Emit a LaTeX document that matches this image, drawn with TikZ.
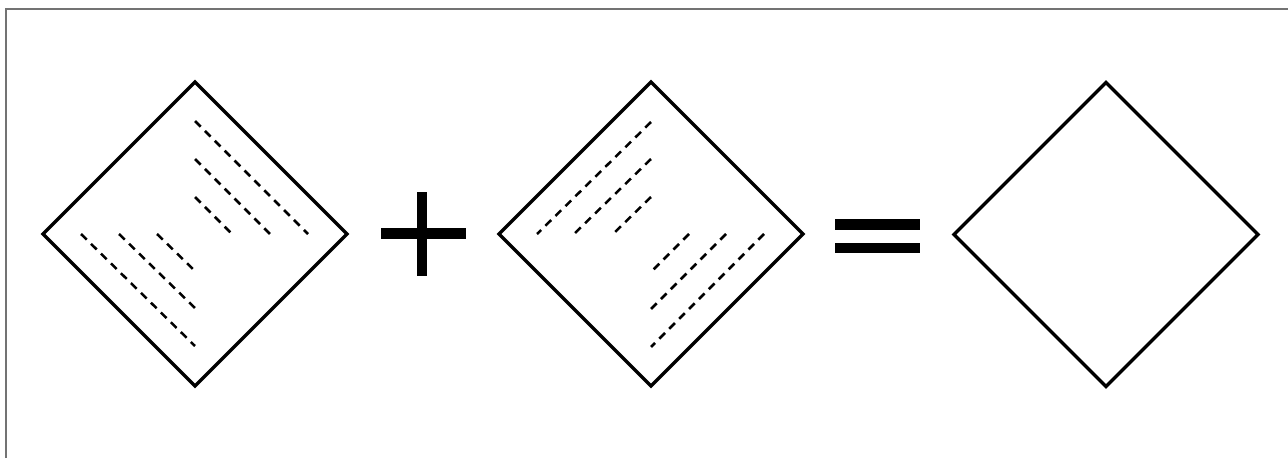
\documentclass[tikz,border=0pt]{standalone}
\usetikzlibrary{shapes.geometric}
\tikzset{
  dia/.style={draw=black, shape=diamond, aspect=1, minimum width=304pt, minimum height=304pt, inner sep=0pt, outer sep=0pt, line width=3.5pt, line join=miter},
  dsh/.style={draw=black, line width=2.5pt, dash pattern=on 8pt off 6pt},
  bar/.style={fill=black, draw=none},
  frame/.style={draw=black!55, line width=1.6pt}
}
\begin{document}
\begin{tikzpicture}[x=1pt,y=-1pt]
\useasboundingbox (0,0) rectangle (1288,458);
% frame
\draw[frame] (6,458) -- (6,9) -- (1288,9);
% diamond 1
\begin{scope}[shift={(195,234)}]
  \node[dia] (d1) at (0,0) {};
  \draw[dsh] (0,-113) -- (113,0);
  \draw[dsh] (0,-75) -- (75,0);
  \draw[dsh] (0,-37) -- (37,0);
  \draw[dsh] (-114,0) -- (0,112);
  \draw[dsh] (-76,0) -- (0,74);
  \draw[dsh] (-38,0) -- (0,37);
\end{scope}
% plus
\fill[bar] (417.3,192.3) rectangle (427.3,275.7);
\fill[bar] (380.7,228.3) rectangle (465.7,239);
% diamond 2
\begin{scope}[shift={(651,234)}]
  \node[dia] (d2) at (0,0) {};
  \draw[dsh] (0,-112) -- (-114,0);
  \draw[dsh] (0,-75) -- (-77,0);
  \draw[dsh] (0,-37) -- (-38,0);
  \draw[dsh] (113,0) -- (0,113);
  \draw[dsh] (75,0) -- (0,75);
  \draw[dsh] (38,0) -- (0,38);
\end{scope}
% equals
\fill[bar] (835,219.3) rectangle (920,230);
\fill[bar] (835,242.7) rectangle (920,253.3);
% diamond 3
\node[dia] (d3) at (1106,234.5) {};
\end{tikzpicture}
\end{document}
